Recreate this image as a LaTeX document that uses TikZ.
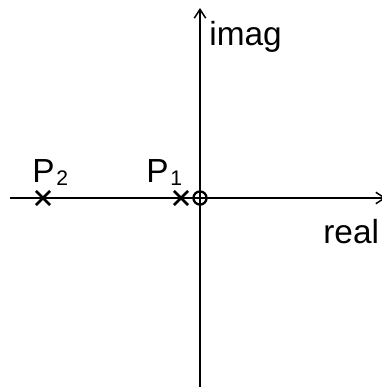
\documentclass[tikz,border=0pt]{standalone}
\usepackage{fontspec}
\setmainfont{Liberation Sans}
\usetikzlibrary{shapes.misc, arrows.meta, positioning}
\newcommand{\idx}[1]{\hspace{1pt}\raisebox{-1.8pt}{\fontsize{12pt}{12pt}\selectfont #1}}
\tikzset{
    axis/.style = {draw, line width=0.85pt, -{Straight Barb[length=5pt,width=6.5pt]}},
    pole/.style = {cross out, draw, line width=1.6pt, minimum size=6.5pt, inner sep=0pt},
    zero/.style = {circle, draw, line width=1.3pt, minimum size=7.5pt, inner sep=0pt},
    lbl/.style  = {font=\fontsize{19pt}{19pt}\selectfont, inner sep=0pt, anchor=base west}
}

\begin{document}
\begin{tikzpicture}[x=0.02cm, y=-0.02cm]
        \useasboundingbox (0,0) rectangle (382,387);
        % Axes
        \coordinate (west) at (10,198);
        \coordinate (east) at (386,198);
        \coordinate (south) at (200,387);
        \coordinate (north) at (200,8);
        \path [axis] (west) -- (east);
        \path [axis] (south) -- (north);

        % Poles and zero
        \node [zero] (z0) at (200,198) {};
        \node [pole] (p1) at (181,198) {};
        \node [pole] (p2) at (43,198) {};

        % Labels
        \node [lbl] (p1lbl) at (146,182) {P\idx{1}};
        \node [lbl] (p2lbl) at (32,182) {P\idx{2}};
        \node [lbl] (imag) at (209,45) {imag};
        \node [lbl] (real) at (323,243) {real};
    \end{tikzpicture}
\end{document}
